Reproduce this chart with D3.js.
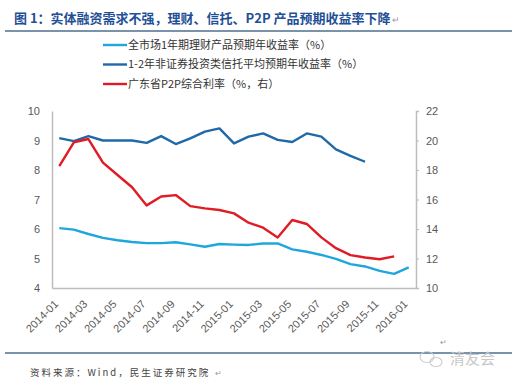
<!DOCTYPE html>
<html>
<head>
<meta charset="utf-8">
<script src="https://cdn.jsdelivr.net/npm/d3@7"></script>
<style>
  body { margin: 0; background: #fff; }
  svg { display: block; font-family: "Noto Sans CJK SC", "Noto Sans", sans-serif; }
</style>
</head>
<body>
<svg width="528" height="385"></svg>
<script>
const months = ["2014-01","2014-02","2014-03","2014-04","2014-05","2014-06","2014-07","2014-08","2014-09","2014-10","2014-11","2014-12",
                "2015-01","2015-02","2015-03","2015-04","2015-05","2015-06","2015-07","2015-08","2015-09","2015-10","2015-11","2015-12","2016-01"];
const tickMonths = months.filter((d, i) => i % 2 === 0);

// 全市场1年期理财产品预期年收益率 (left)
const wealthRate = [6.03,5.98,5.83,5.70,5.62,5.56,5.52,5.52,5.55,5.48,5.40,5.49,5.47,5.46,5.51,5.51,5.31,5.23,5.12,4.99,4.81,4.73,4.58,4.48,4.70];
// 1-2年非证券投资类信托平均预期年收益率 (left)
const trustRate = [9.08,8.98,9.15,9.00,9.00,9.00,8.92,9.15,8.88,9.07,9.30,9.41,8.90,9.13,9.24,9.02,8.95,9.24,9.13,8.70,8.48,8.28];
// 广东省P2P综合利率 (right)
const p2pRate = [18.27,19.88,20.10,18.50,17.66,16.83,15.60,16.20,16.30,15.55,15.40,15.29,15.06,14.43,14.09,13.43,14.61,14.34,13.43,12.70,12.23,12.07,11.95,12.14];

const leftTicks = [4,5,6,7,8,9,10];
const rightTicks = [10,12,14,16,18,20,22];

const legendInfo = [
  ["#1fa7dd", "全市场1年期理财产品预期年收益率（%）"],
  ["#1f69a8", "1-2年非证券投资类信托平均预期年收益率（%）"],
  ["#e01b24", "广东省P2P综合利率（%，右）"]
];

const plot = { left: 52, right: 416, top: 111, bottom: 288 };

const svg = d3.select("svg");

// title
svg.append("text")
   .attr("x", 14)
   .attr("y", 23)
   .attr("fill", "#1f4f96")
   .style("font-size", "13px")
   .style("font-weight", "bold")
   .text("图 1：实体融资需求不强，理财、信托、P2P 产品预期收益率下降");
svg.append("text")
   .attr("x", 392).attr("y", 23)
   .attr("fill", "#999")
   .style("font-size", "9px")
   .text("↵");

svg.append("line")
   .attr("x1", 5).attr("x2", 512)
   .attr("y1", 31).attr("y2", 31)
   .attr("stroke", "#4d6f8f")
   .attr("stroke-width", 1.6);

// scales
const xScale = d3.scaleBand()
                 .domain(months)
                 .range([plot.left, plot.right]);
const yLeft = d3.scaleLinear().domain([4, 10]).range([plot.bottom, plot.top]);
const yRight = d3.scaleLinear().domain([10, 22]).range([plot.bottom, plot.top]);

const xc = d => xScale(d) + xScale.bandwidth() / 2;
const formatInteger = d3.format("d");

// left axis
const leftAxis = svg.append("g")
   .attr("transform", `translate(${plot.left},0)`)
   .call(d3.axisLeft(yLeft).tickValues(leftTicks).tickFormat(formatInteger).tickSize(0).tickPadding(12));
leftAxis.select(".domain").attr("stroke", "#bdbdbd").attr("stroke-width", 1.5);

// right axis
const rightAxis = svg.append("g")
   .attr("transform", `translate(${plot.right},0)`)
   .call(d3.axisRight(yRight).tickValues(rightTicks).tickFormat(formatInteger).tickSize(3).tickPadding(7));
rightAxis.select(".domain").attr("stroke", "#bdbdbd").attr("stroke-width", 1.5);
rightAxis.selectAll(".tick line").attr("stroke", "#bdbdbd");

// bottom axis
const bottomAxis = svg.append("g")
   .attr("transform", `translate(0,${plot.bottom})`)
   .call(d3.axisBottom(xScale).tickValues(tickMonths).tickSize(0));
bottomAxis.select(".domain").attr("stroke", "#bdbdbd").attr("stroke-width", 1.5);
bottomAxis.selectAll("text")
   .attr("text-anchor", "end")
   .attr("x", 0)
   .attr("y", 0)
   .attr("dy", "0.35em")
   .attr("transform", "translate(-3,14) rotate(-45)");

svg.selectAll(".tick text")
   .attr("fill", "#595959")
   .style("font-size", "11px")
   .style("font-family", "\"Liberation Sans\", \"Noto Sans\", sans-serif");

// lines
const lineLeft = d3.line()
   .x((d, i) => xc(months[i]))
   .y(d => yLeft(d));
const lineRight = d3.line()
   .x((d, i) => xc(months[i]))
   .y(d => yRight(d));

svg.append("path").datum(wealthRate)
   .attr("d", lineLeft).attr("fill", "none")
   .attr("stroke", legendInfo[0][0]).attr("stroke-width", 2.4)
   .attr("stroke-linejoin", "round");
svg.append("path").datum(trustRate)
   .attr("d", lineLeft).attr("fill", "none")
   .attr("stroke", legendInfo[1][0]).attr("stroke-width", 2.4)
   .attr("stroke-linejoin", "round");
svg.append("path").datum(p2pRate)
   .attr("d", lineRight).attr("fill", "none")
   .attr("stroke", legendInfo[2][0]).attr("stroke-width", 2.4)
   .attr("stroke-linejoin", "round");

// legend
const legend = svg.selectAll(".legend")
   .data(legendInfo)
   .enter()
   .append("g")
   .attr("class", "legend")
   .attr("transform", (d, i) => `translate(103,${45 + i * 19.5})`);
legend.append("line")
   .attr("x1", 0).attr("x2", 24)
   .attr("stroke", d => d[0])
   .attr("stroke-width", 2.4);
legend.append("text")
   .attr("x", 25)
   .attr("dy", "0.35em")
   .attr("fill", "#333")
   .style("font-size", "11px")
   .text(d => d[1]);

// bottom rule and source
svg.append("line")
   .attr("x1", 5).attr("x2", 512)
   .attr("y1", 353).attr("y2", 353)
   .attr("stroke", "#4d6f8f")
   .attr("stroke-width", 1.6);

svg.append("text")
   .attr("x", 30).attr("y", 376)
   .attr("fill", "#444")
   .style("font-size", "9.5px")
   .style("letter-spacing", "2px")
   .text("资料来源：Wind，民生证券研究院");
svg.append("text")
   .attr("x", 215).attr("y", 376)
   .attr("fill", "#999")
   .style("font-size", "8px")
   .text("↵");
svg.append("text")
   .attr("x", 440).attr("y", 345)
   .attr("fill", "#999")
   .style("font-size", "8px")
   .text("↵");

// watermark
const mark = svg.append("g")
   .attr("fill", "none")
   .attr("stroke", "#cfcfcf")
   .attr("stroke-width", 1.2);
mark.append("ellipse").attr("cx", 427).attr("cy", 357).attr("rx", 7).attr("ry", 5.5);
mark.append("ellipse").attr("cx", 436).attr("cy", 362).attr("rx", 6).attr("ry", 4.5);
svg.append("text")
   .attr("x", 450).attr("y", 364)
   .attr("fill", "#c8c8c8")
   .style("font-size", "15px")
   .text("清友会");
</script>
</body>
</html>
